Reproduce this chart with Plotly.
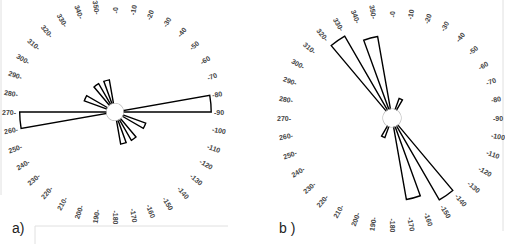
import plotly.graph_objects as go
import math

W, H = 505, 244

# ---- data ----
a_theta = [85, 115, 145, 165, 265, 295, 325, 345]
a_r = [98, 27, 27, 27, 97, 27, 27, 27]
b_theta = [25, 145, 165, 205, 325, 345]
b_r = [13, 94, 81, 13, 94, 81]
tick_angles = list(range(0, 360, 10))
panel_labels = ["a)", "b )"]

# ---- geometry (pixels) ----
panels = [
    dict(cx=115, cy=112, R=98, hole=8.5, theta=a_theta, r=a_r, lab=(18, 228)),
    dict(cx=392, cy=118, R=100, hole=9.0, theta=b_theta, r=b_r, lab=(287, 228)),
]

fig = go.Figure()
annotations = []

for i, p in enumerate(panels):
    pid = "polar" if i == 0 else "polar2"
    fig.add_trace(go.Barpolar(
        r=p["r"], theta=p["theta"], width=[10] * len(p["r"]),
        marker=dict(color="white", line=dict(color="black", width=1.4)),
        subplot=pid, showlegend=False, hoverinfo="skip"))
    # hole ring at radial value 0
    ring = list(range(0, 361, 5))
    fig.add_trace(go.Scatterpolar(
        r=[0] * len(ring), theta=ring, mode="lines",
        line=dict(color="#bbbbbb", width=1.2), subplot=pid,
        showlegend=False, hoverinfo="skip"))
    x0 = (p["cx"] - p["R"]) / W
    x1 = (p["cx"] + p["R"]) / W
    y0 = 1 - (p["cy"] + p["R"]) / H
    y1 = 1 - (p["cy"] - p["R"]) / H
    fig.update_layout(**{pid: dict(
        domain=dict(x=[x0, x1], y=[y0, y1]),
        hole=p["hole"] / p["R"],
        bgcolor="white",
        radialaxis=dict(visible=False, range=[0, 100]),
        angularaxis=dict(rotation=90, direction="clockwise", showline=False,
                         showgrid=False, ticks="", showticklabels=False),
    )})
    # rotated tick labels
    for a in tick_angles:
        right = a <= 180
        txt = ("-" + str(a)) if right else (str(a) + "-")
        w = 2.3 + 3.9 * len(str(a))
        rr = p["R"] + 0.5 + w / 2
        rad = math.radians(a)
        px = p["cx"] + rr * math.sin(rad)
        py = p["cy"] - rr * math.cos(rad)
        ang = (a - 90) if right else (a - 270)
        annotations.append(dict(
            x=px / W, y=1 - py / H, xref="paper", yref="paper",
            text="<b>" + txt + "</b>", showarrow=False, textangle=ang,
            xanchor="center", yanchor="middle",
            font=dict(family="Liberation Sans, Arial", size=7, color="#444")))
    lx, ly = p["lab"]
    annotations.append(dict(
        x=lx / W, y=1 - ly / H, xref="paper", yref="paper",
        text=panel_labels[i], showarrow=False, xanchor="center", yanchor="middle",
        font=dict(family="Liberation Sans, Arial", size=14, color="#222")))

shapes = [
    dict(type="line", xref="paper", yref="paper", x0=1 / W, x1=1 / W, y0=1, y1=1 - 195 / H,
         line=dict(color="#e0e0e0", width=1)),
    dict(type="line", xref="paper", yref="paper", x0=35 / W, x1=228 / W,
         y0=1 - 226 / H, y1=1 - 226 / H, line=dict(color="#e0e0e0", width=1)),
    dict(type="line", xref="paper", yref="paper", x0=35 / W, x1=35 / W,
         y0=1 - 226 / H, y1=0, line=dict(color="#e0e0e0", width=1)),
    dict(type="line", xref="paper", yref="paper", x0=503 / W, x1=503 / W,
         y0=1, y1=1 - 231 / H, line=dict(color="#e0e0e0", width=1)),
]

fig.update_layout(
    width=W, height=H, margin=dict(l=0, r=0, t=0, b=0),
    paper_bgcolor="white", plot_bgcolor="white",
    annotations=annotations, shapes=shapes, showlegend=False,
)
fig.write_html("out.html", config={"displayModeBar": False},
               post_script="document.body.style.margin='0px';")
